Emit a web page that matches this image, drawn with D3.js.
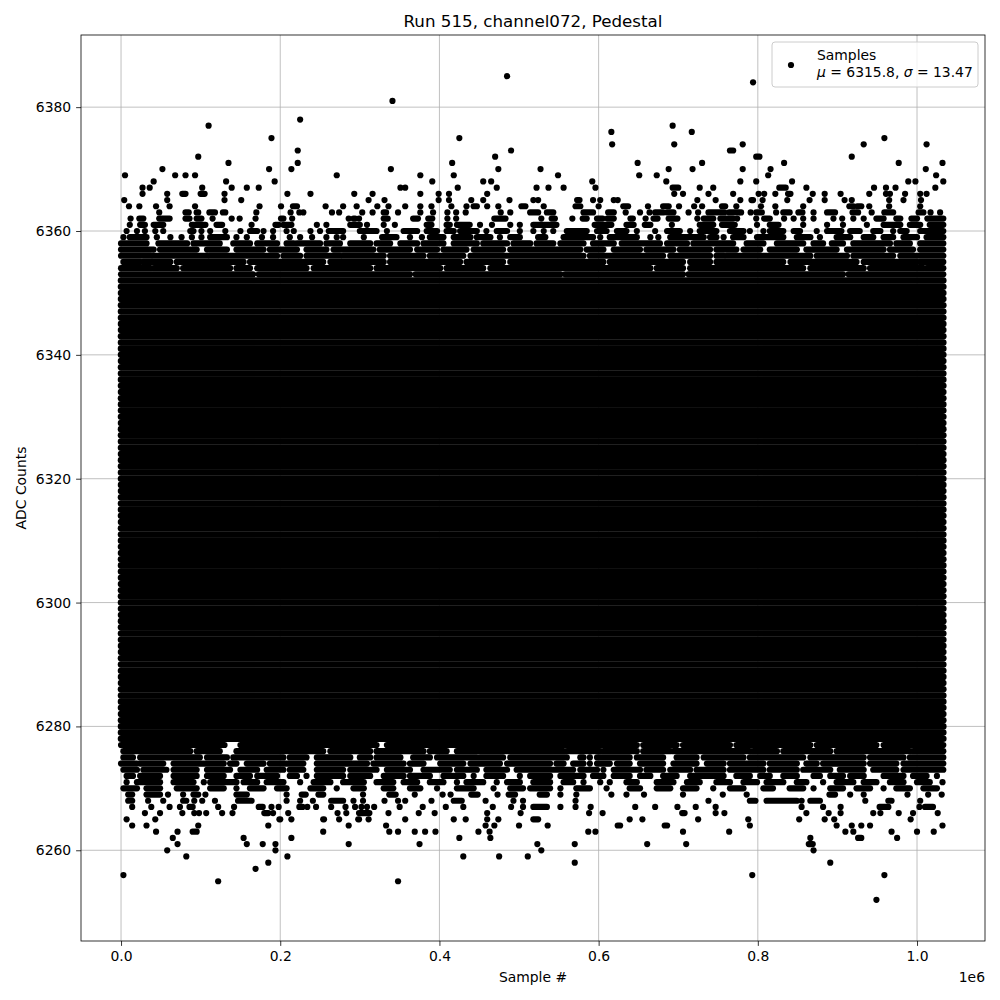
<!DOCTYPE html>
<html>
<head>
<meta charset="utf-8">
<script src="https://cdn.jsdelivr.net/npm/d3@7"></script>
<style>
  body { margin: 0; background: #fff; }
  text { font-family: "DejaVu Sans", sans-serif; }
</style>
</head>
<body>
<div id="chart"></div>
<script>
var widthsvg = 1000;
var heightsvg = 1000;
var chartmargin = {top: 35, right: 15, bottom: 59, left: 81};
var width = widthsvg - chartmargin.left - chartmargin.right;
var height = heightsvg - chartmargin.top - chartmargin.bottom;

// axis limits (samples, ADC counts)
var xLim = [-50300, 1085400];
var yLim = [6245.35, 6391.65];
var xTicks = [0, 200000, 400000, 600000, 800000, 1000000];
var xTickLabels = ["0.0", "0.2", "0.4", "0.6", "0.8", "1.0"];
var yTicks = [6260, 6280, 6300, 6320, 6340, 6360, 6380];

// sample positions are in thousands of samples
var firstSample = 0;
var lastSample = 1033;
// every ADC level in this range is hit all through the run
var coreLevels = [6278, 6352];

// levels above the core: [adc, samples], a pair is a run of neighbouring samples
var upperRows = [
  [6385, [485]],
  [6384, [794]],
  [6381, [341]],
  [6378, [225]],
  [6377, [110, 693]],
  [6376, [616, 717]],
  [6375, [189, 425, 959]],
  [6374, [617, 695, 781, 933, 1012]],
  [6373, [222, 490, [765, 769]]],
  [6372, [97, 470, [798, 802], 918]],
  [6371, [135, 222, 416, 649, 730, 833, 977, 1032]],
  [6370, [52, 186, 214, 339, 474, 527, 688, 718, 781, 816, 1011]],
  [6369, [5, 68, 81, 93, 271, 376, 418, 549, 651, 673, 813, 1024]],
  [6368, [41, 132, 193, 391, 455, 465, 592, 685, 778, 798, 843, 989, 998, 1033]],
  [6367, [27, 36, 102, 139, 158, 173, 351, 357, 423, 472, 522, 537, 556, 596, [693, 700], 727, 744, [827, 835], 861, 946, 961, 973, 1023]],
  [6366, [27, 58, [77, 81], [100, 105], 130, 209, 238, 293, 316, 376, 399, 412, 460, 695, 706, 738, 769, 801, 808, 822, [838, 841], 869, 884, 904, 940, 961, 966, 985, 1004, 1012]],
  [6365, [4, 58, 130, 151, 311, 331, 399, 412, 440, 455, 488, 518, 524, [573, 576], 593, 602, 619, 624, 724, 747, 778, [792, 794], 806, 837, 865, 884, 909, 918, 965, 983, 1005]],
  [6364, [10, 23, 44, 61, 93, 174, 201, [216, 221], 257, 279, 296, 322, 336, 357, 376, 390, 415, 434, [443, 447], 460, 474, [503, 508], 531, [571, 577], 600, [631, 637], 662, [681, 688], 701, 720, 730, [755, 759], 773, 804, 822, 857, [915, 920], [925, 930], 940, 965, 1004]],
  [6363, [48, [81, 85], [95, 97], [111, 118], [128, 131], 170, 213, 224, 229, 265, 274, 303, 316, [330, 333], 348, 376, 392, 410, 421, 433, 477, 489, [514, 524], [535, 543], [581, 593], [612, 619], 634, 652, 664, [671, 681], [686, 694], 713, 725, [738, 758], [764, 776], 779, 791, [798, 805], 823, [832, 840], [851, 856], 870, [887, 897], [919, 926], 943, [959, 970], [1002, 1008], 1017, 1029]],
  [6362, [12, [23, 28], [48, 61], [81, 86], [95, 101], 115, 139, 149, 169, [201, 204], 215, 286, [292, 294], 299, [330, 335], [367, 373], [386, 391], 410, 421, [469, 483], 528, [541, 545], 567, [580, 585], [598, 605], [611, 619], [640, 643], 659, [669, 674], [688, 699], 724, [732, 744], [753, 769], 774, 798, [808, 815], 833, 845, 857, 870, 895, 906, 920, 933, [949, 958], [974, 979], [993, 1000], [1013, 1033]]],
  [6361, [11, [24, 30], [41, 53], [89, 106], [120, 127], 164, [194, 198], [204, 214], 246, 258, [288, 300], 309, 330, 344, [384, 390], [409, 413], [422, 438], 451, 466, 489, 501, [518, 547], [595, 616], [635, 644], [658, 665], 692, [727, 744], [755, 771], 799, [815, 826], 857, 887, 907, 937, [958, 979], [991, 1004], [1016, 1033]]],
  [6360, [7, 20, 30, 43, 53, [87, 91], 101, 112, 131, 150, [162, 171], 179, 191, 208, 217, 238, 250, [261, 279], [300, 321], 334, [355, 372], [384, 397], [409, 418], [426, 447], 459, [472, 485], 501, 518, 531, 543, [560, 585], [598, 610], [623, 635], 648, 671, [686, 702], 715, [727, 748], [765, 782], 790, 807, [815, 832], [845, 853], 874, [887, 905], [916, 928], [945, 954], 970, [979, 987], [1004, 1033]]],
  [6359, [3, [11, 32], 45, 62, 76, 89, 101, [112, 133], 145, 158, 177, 191, 212, 225, 240, 258, 271, 279, 305, [328, 346], 363, 378, [388, 405], [418, 439], [447, 464], 476, [489, 501], [524, 533], [556, 593], 602, [614, 648], 665, 675, [690, 732], [740, 748], 757, [769, 782], [799, 832], [849, 866], 878, [899, 916], [933, 945], [958, 970], [983, 1000], [1012, 1033]]],
  [6358, [[0, 32], [47, 83], [91, 124], [141, 162], [171, 196], [208, 217], [221, 250], [258, 275], [288, 313], [321, 338], [351, 372], [380, 405], [418, 447], [455, 485], [493, 514], [522, 543], [552, 581], [593, 619], [629, 677], [686, 711], [719, 769], [786, 807], [824, 857], [870, 882], [893, 907], [920, 966], [974, 991], [1004, 1033]]],
  [6357, [[0, 41], [49, 95], [108, 133], [145, 179], [187, 221], [233, 258], [267, 317], [325, 363], [372, 397], [405, 434], [443, 480], [489, 577], [585, 606], [619, 652], [660, 694], [702, 740], [748, 773], [782, 803], [815, 849], [861, 899], [912, 958], [966, 995], [1004, 1033]]],
  [6356, [[0, 37], [41, 108], [112, 196], [204, 225], [233, 275], [279, 330], [338, 380], [388, 430], [439, 581], [589, 681], [690, 740], [748, 757], [761, 866], [874, 912], [920, 970], [979, 1033]]],
  [6355, [[3, 24], [28, 62], [70, 154], [162, 254], [263, 330], [338, 426], [434, 480], [489, 606], [614, 706], [715, 740], [748, 832], [841, 924], [933, 1000], [1004, 1033]]],
  [6354, [[0, 37], [41, 70], [78, 137], [145, 162], [171, 233], [242, 313], [321, 401], [409, 455], [464, 665], [673, 706], [715, 857], [866, 933], [941, 1008], [1012, 1033]]],
  [6353, [[0, 166], [173, 363], [370, 552], [558, 706], [713, 907], [914, 1033]]]
];

// levels below the core
var lowerRows = [
  [6277, [[0, 130], [150, 321], [334, 648], [656, 698], [706, 765], [773, 866], [874, 949], [958, 1033]]],
  [6276, [[3, 87], [95, 124], [145, 254], [263, 313], [321, 380], [388, 409], [422, 556], [560, 602], [606, 648], [656, 690], [694, 790], [794, 824], [832, 891], [899, 991], [995, 1033]]],
  [6275, [[3, 15], [24, 99], [108, 133], [141, 204], [212, 233], [246, 288], [300, 313], [321, 351], [367, 388], [397, 447], [451, 480], [489, 560], [577, 581], 589, [598, 639], [648, 681], [698, 723], [732, 782], [790, 857], [866, 933], [941, 983], [991, 1033]]],
  [6274, [[0, 20], [24, 53], [66, 129], [137, 145], [158, 179], [187, 229], [246, 309], [317, 355], [363, 380], [401, 430], [439, 476], [485, 539], [547, 556], [568, 581], 589, [598, 614], [623, 639], [652, 681], [694, 723], [736, 757], [765, 807], [815, 849], [861, 874], [882, 933], [941, 974], [983, 1033]]],
  [6273, [[3, 20], [28, 57], [66, 95], [108, 137], [150, 171], [183, 204], [212, 229], [246, 279], [288, 321], [334, 363], [380, 413], [422, 447], [459, 485], [497, 568], [577, 598], 606, [619, 652], [660, 681], [690, 715], [723, 757], [765, 807], [815, 849], [857, 891], [903, 933], [945, 974], [983, 1033]]],
  [6272, [[7, 15], [24, 49], [66, 95], [108, 129], [145, 162], [171, 196], [212, 221], 233, [246, 279], [288, 313], [330, 355], [363, 388], [405, 430], 443, [459, 480], 501, [514, 539], [552, 581], [593, 606], [619, 639], [652, 665], [681, 698], [715, 757], [773, 790], [803, 815], [832, 849], [870, 878], [891, 907], [916, 933], [958, 983], [995, 1012], 1025]],
  [6271, [7, [20, 49], [66, 91], 104, [112, 145], [154, 171], [183, 204], 225, [242, 263], [279, 305], [321, 342], [355, 372], [388, 405], 422, [434, 455], 472, [485, 501], [518, 539], [556, 568], 581, 602, 614, [635, 648], [673, 694], [711, 727], [748, 765], [782, 799], [811, 832], [849, 861], 882, [899, 920], [933, 949], [966, 983], [1000, 1016], 1032]],
  [6270, [[3, 20], [32, 49], [70, 95], [112, 129], 145, [162, 179], [196, 208], [238, 254], 271, [292, 305], [330, 342], [363, 376], 397, [422, 443], 468, [489, 505], [514, 539], 552, [572, 589], 610, [639, 652], [673, 690], [706, 723], 744, [765, 782], [807, 819], [840, 857], 870, [891, 907], [924, 941], 958, [974, 991], [1008, 1025]]],
  [6269, [[9, 14], [32, 49], 59, 78, [91, 97], 106, [145, 158], 208, [227, 232], [248, 254], 304, [337, 345], 369, 404, 414, [440, 448], 473, [487, 495], [526, 535], 552, 572, 616, 635, 657, 706, 756, 786, [890, 897], 916, 933, 988, 1014, 1031]],
  [6268, [[9, 14], 34, 53, [78, 82], 92, 102, 118, [147, 164], 208, 225, 241, [264, 279], 292, 304, 331, 348, 357, 390, [418, 428], 458, 493, 505, 571, 738, [790, 797], [811, 849], 855, [866, 878], 935, [964, 968], 1004]],
  [6267, [14, 38, 61, 74, [86, 90], 122, 142, [173, 178], 189, 198, [224, 228], 234, 245, 264, 282, 294, 302, 309, 318, 350, 379, 408, 430, 467, 490, 505, [518, 535], 552, 571, 590, 646, 671, 699, 722, 747, 855, 882, 904, [953, 964], 1003, [1010, 1020]]],
  [6266, [30, 49, 77, 92, 98, 107, 127, 140, [180, 185], 191, 210, 272, 283, [299, 312], 336, 374, 394, 460, 502, 588, 605, [705, 708], 747, 758, 861, 889, 904, 945, 954, 977, 995, 1026]],
  [6265, [7, 43, [199, 200], 214, [254, 255], 274, [298, 299], 311, 357, 418, 433, 460, 474, [518, 524], 639, 655, 725, 788, 852, 884, 896, 992]],
  [6264, [14, 32, 97, 185, 286, 333, 458, 469, 500, 536, [624, 627], [683, 686], 790, 899, 918, 930, 941, 1032]],
  [6263, [44, 71, [90, 95], 254, 337, 348, 369, 382, 395, 449, 463, 587, 596, 706, 764, 910, 920, 968, 1000, 1021]],
  [6262, [65, 154, 214, 425, 464, 866, [926, 930], 975]],
  [6261, [71, 158, 178, 194, 286, 375, 523, 570, 661, 710, [864, 869]]],
  [6260, [58, 194, 528, 870]],
  [6259, [82, 209, 430, 475, 511]],
  [6258, [185, 570, 891]],
  [6257, [169]],
  [6256, [3, 793, 959]],
  [6255, [122, 348]],
  [6252, [949]]
];

var dotR = 3.1;
var coreStroke = 6.6;

var svg = d3.select("#chart")
    .append("svg")
    .attr("width", widthsvg)
    .attr("height", heightsvg);

var scalex = d3.scaleLinear().domain(xLim).range([0, width]);
var scaley = d3.scaleLinear().domain(yLim).range([height, 0]);

var chartGroup = svg.append("g")
    .attr("transform", `translate(${chartmargin.left}, ${chartmargin.top})`);

// grid below the samples
chartGroup.append("g")
    .selectAll("line.gx")
    .data(xTicks)
    .enter()
    .append("line")
    .attr("x1", d => scalex(d)).attr("x2", d => scalex(d))
    .attr("y1", 0).attr("y2", height)
    .attr("stroke", "#b0b0b0").attr("stroke-width", 0.8);

chartGroup.append("g")
    .selectAll("line.gy")
    .data(yTicks)
    .enter()
    .append("line")
    .attr("y1", d => scaley(d)).attr("y2", d => scaley(d))
    .attr("x1", 0).attr("x2", width)
    .attr("stroke", "#b0b0b0").attr("stroke-width", 0.8);

var clipped = chartGroup.append("g");

// core: a solid stripe per ADC level
var core = d3.range(coreLevels[0], coreLevels[1] + 1);
clipped.append("g")
    .selectAll("line")
    .data(core)
    .enter()
    .append("line")
    .attr("x1", scalex(firstSample * 1000))
    .attr("x2", scalex(lastSample * 1000))
    .attr("y1", d => scaley(d))
    .attr("y2", d => scaley(d))
    .attr("stroke", "#000")
    .attr("stroke-width", coreStroke)
    .attr("stroke-linecap", "round");

function drawRows(rows) {
    rows.forEach(function(row) {
        var adc = row[0];
        var runs = row[1].filter(d => Array.isArray(d));
        var dots = row[1].filter(d => !Array.isArray(d));
        clipped.append("g")
            .selectAll("line")
            .data(runs)
            .enter()
            .append("line")
            .attr("x1", d => scalex(d[0] * 1000))
            .attr("x2", d => scalex(d[1] * 1000))
            .attr("y1", scaley(adc))
            .attr("y2", scaley(adc))
            .attr("stroke", "#000")
            .attr("stroke-width", dotR * 2)
            .attr("stroke-linecap", "round");
        clipped.append("g")
            .selectAll("circle")
            .data(dots)
            .enter()
            .append("circle")
            .attr("cx", d => scalex(d * 1000))
            .attr("cy", scaley(adc))
            .attr("r", dotR)
            .attr("fill", "#000");
    });
}
drawRows(upperRows);
drawRows(lowerRows);

// axes
var axisbottom = d3.axisBottom(scalex)
    .tickValues(xTicks)
    .tickFormat((d, i) => xTickLabels[i])
    .tickSize(4.9)
    .tickPadding(4.9);
var axisleft = d3.axisLeft(scaley)
    .tickValues(yTicks)
    .tickFormat(d3.format("d"))
    .tickSize(4.9)
    .tickPadding(4.9);

var gx = chartGroup.append("g")
    .attr("transform", `translate(0, ${height})`)
    .call(axisbottom);
var gy = chartGroup.append("g")
    .call(axisleft);

[gx, gy].forEach(function(g) {
    g.select(".domain").remove();
    g.selectAll(".tick line").attr("stroke", "#000").attr("stroke-width", 0.8);
    g.selectAll(".tick text")
        .attr("fill", "#000")
        .style("font-size", "13.9px")
        .style("font-family", "DejaVu Sans");
});

chartGroup.append("rect")
    .attr("x", 0).attr("y", 0)
    .attr("width", width).attr("height", height)
    .attr("fill", "none")
    .attr("stroke", "#000")
    .attr("stroke-width", 0.8);

// labels
svg.append("text")
    .attr("x", chartmargin.left + width / 2)
    .attr("y", 27)
    .attr("text-anchor", "middle")
    .style("font-size", "16.7px")
    .text("Run 515, channel072, Pedestal");

svg.append("text")
    .attr("x", chartmargin.left + width / 2)
    .attr("y", 982)
    .attr("text-anchor", "middle")
    .style("font-size", "13.9px")
    .text("Sample #");

svg.append("text")
    .attr("x", chartmargin.left + width)
    .attr("y", 982)
    .attr("text-anchor", "end")
    .style("font-size", "13.9px")
    .text("1e6");

svg.append("text")
    .attr("transform", `translate(26, ${chartmargin.top + height / 2}) rotate(-90)`)
    .attr("text-anchor", "middle")
    .style("font-size", "13.9px")
    .text("ADC Counts");

// legend
var legend = svg.append("g").attr("transform", "translate(772, 42)");
legend.append("rect")
    .attr("width", 206).attr("height", 45)
    .attr("rx", 3)
    .attr("fill", "#fff").attr("fill-opacity", 0.8)
    .attr("stroke", "#ccc").attr("stroke-width", 1);
legend.append("circle")
    .attr("cx", 19).attr("cy", 23)
    .attr("r", dotR)
    .attr("fill", "#000");
legend.append("text")
    .attr("x", 45).attr("y", 18)
    .style("font-size", "13.9px")
    .text("Samples");
var l2 = legend.append("text")
    .attr("x", 45).attr("y", 35)
    .style("font-size", "13.9px");
l2.append("tspan").style("font-style", "italic").text("μ");
l2.append("tspan").text(" = 6315.8, ");
l2.append("tspan").style("font-style", "italic").text("σ");
l2.append("tspan").text(" = 13.47");
</script>
</body>
</html>
